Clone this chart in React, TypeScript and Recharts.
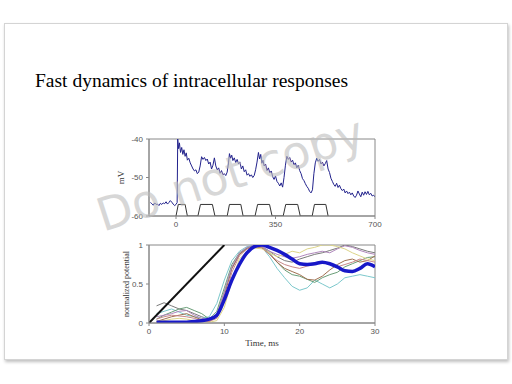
import { LineChart, Line, XAxis, YAxis, ReferenceArea } from "recharts";

// membrane potential trace (ms, mV)
const TRACE_T = [
    -90, -85, -80, -75, -70, -65, -60, -55, -50, -45, -40, -35, -30, -25, -20, -15, -10, -5, 0, 4,
    6, 9, 12, 16, 20, 24, 28, 32, 36, 40, 45, 50, 55, 60, 65, 70, 75, 80, 85, 90,
    95, 100, 105, 110, 115, 120, 125, 130, 135, 140, 145, 150, 155, 160, 165, 170, 175, 180, 185, 188,
    192, 196, 200, 205, 210, 215, 220, 225, 230, 235, 240, 245, 250, 255, 260, 265, 270, 275, 280, 285,
    290, 294, 298, 302, 306, 310, 315, 320, 325, 330, 335, 340, 345, 350, 355, 360, 365, 370, 375, 380,
    385, 390, 395, 400, 405, 410, 415, 420, 425, 430, 435, 440, 445, 450, 455, 460, 465, 470, 475, 480,
    485, 490, 495, 500, 505, 510, 515, 520, 525, 530, 535, 540, 545, 550, 555, 560, 565, 570, 575, 580,
    585, 590, 595, 600, 605, 610, 615, 620, 625, 630, 635, 640, 645, 650, 655, 660, 665, 670, 675, 680,
    685, 690, 695, 700,
];
const TRACE_MV = [
    -56.5, -56.8, -57.2, -56.6, -57.0, -56.9, -57.3, -56.7, -57.0, -56.6, -56.8, -56.3, -56.9, -56.5, -56.0, -56.4, -56.9, -57.3, -57.0, -56.5,
    -40.0, -42.5, -41.0, -43.5, -42.2, -44.0, -42.8, -44.5, -43.6, -45.5, -45.0, -46.2, -47.0, -47.8, -48.3, -48.0, -49.0, -48.6, -47.0, -44.6,
    -45.3, -44.8, -45.6, -45.2, -46.5, -46.0, -47.8, -46.8, -44.9, -47.0, -48.0, -47.5, -48.9, -48.2, -49.3, -49.0, -49.5, -48.6, -46.0, -43.8,
    -45.0, -44.2, -45.6, -44.9, -46.1, -45.3, -46.5, -46.0, -47.8, -47.0, -48.5, -48.0, -49.4, -49.0, -49.7, -49.3, -50.0, -49.5, -48.0, -46.0,
    -43.5, -45.2, -44.0, -46.3, -45.5, -47.0, -46.5, -48.2, -47.5, -48.8, -48.3, -49.8, -50.5, -49.6, -51.0, -51.5, -52.2, -51.4, -52.5, -50.0,
    -46.8, -44.5, -45.3, -44.8, -46.0, -45.5, -46.7, -46.2, -47.5, -46.8, -48.2, -49.0, -50.3, -50.8, -51.6, -52.3, -52.8, -53.6, -54.0, -53.2,
    -49.0, -46.2, -45.0, -45.8, -45.3, -46.5, -46.0, -47.0, -46.4, -45.6, -47.8, -48.7, -50.2, -51.0, -51.8, -52.3, -51.5, -52.6, -52.0, -52.9,
    -53.4, -53.0, -54.0, -53.5, -54.2, -53.8, -54.5, -54.0, -54.8, -55.2, -54.6, -53.5, -54.3, -55.0, -53.8, -54.6, -53.7, -54.4, -53.6, -54.5,
    -54.1, -54.8, -54.6, -55.0,
];

// stimulus pulses drawn along the bottom
const PULSE_T = [
    0, 8, 32, 40, 77, 86, 128, 137, 180, 188, 228, 236, 278, 287, 329, 338, 377, 386, 428, 437, 479, 487, 527, 535,
];
const PULSE_MV = [
    -60, -57, -57, -60, -60, -57, -57, -60, -60, -57, -57, -60, -60, -57, -57, -60, -60, -57, -57, -60, -60, -57, -57, -60,
];

// normalized responses, 1 ms steps
const TIME_MS = [1, 2, 3, 4, 5, 6, 7, 8, 9, 10, 11, 12, 13, 14, 15, 16, 17, 18, 19, 20, 21, 22, 23, 24, 25, 26, 27, 28, 29, 30];
const GRAY = [0.22, 0.26, 0.22, 0.18, 0.16, 0.12, 0.08, 0.05, 0.1, 0.4, 0.7, 0.88, 0.96, 1.0, 0.98, 0.92, 0.85, 0.8, 0.78, 0.82, 0.85, 0.88, 0.9, 0.93, 0.96, 1.0, 0.98, 0.95, 0.92, 0.9];
const CYAN = [0.12, 0.15, 0.18, 0.14, 0.1, 0.08, 0.06, 0.08, 0.25, 0.55, 0.8, 0.92, 0.98, 1.0, 0.97, 0.85, 0.7, 0.58, 0.47, 0.42, 0.45, 0.55, 0.5, 0.45, 0.5, 0.58, 0.6, 0.62, 0.6, 0.58];
const GREEN = [0.05, 0.1, 0.14, 0.18, 0.2, 0.16, 0.12, 0.05, 0.15, 0.45, 0.75, 0.9, 0.96, 1.0, 0.97, 0.9, 0.78, 0.68, 0.62, 0.6, 0.56, 0.52, 0.58, 0.62, 0.65, 0.72, 0.76, 0.8, 0.84, 0.85];
const BROWN = [0.02, 0.05, 0.08, 0.1, 0.12, 0.08, 0.04, 0.02, 0.08, 0.35, 0.7, 0.88, 0.95, 0.98, 0.96, 0.88, 0.78, 0.7, 0.66, 0.62, 0.56, 0.55, 0.6, 0.68, 0.75, 0.8, 0.82, 0.78, 0.8, 0.86];
const PURPLE = [0.08, 0.1, 0.12, 0.15, 0.16, 0.1, 0.06, 0.04, 0.1, 0.4, 0.72, 0.9, 0.97, 1.0, 0.98, 0.92, 0.88, 0.85, 0.83, 0.85, 0.88, 0.9, 0.92, 0.9, 0.95, 0.99, 0.97, 0.93, 0.9, 0.88];
const YELLOW = [0.02, 0.03, 0.05, 0.06, 0.05, 0.03, 0.02, 0.01, 0.03, 0.2, 0.55, 0.82, 0.92, 0.96, 0.95, 0.9, 0.85, 0.88, 0.92, 0.9, 0.95, 0.97, 1.0, 1.0, 0.98, 0.95, 0.9, 0.86, 0.82, 0.8];
const RED = [0.05, 0.08, 0.1, 0.09, 0.08, 0.06, 0.03, 0.02, 0.06, 0.3, 0.65, 0.86, 0.95, 0.99, 0.97, 0.88, 0.8, 0.75, 0.72, 0.7, 0.73, 0.75, 0.78, 0.75, 0.72, 0.75, 0.78, 0.82, 0.8, 0.78];
const MEAN = [0.01, 0.01, 0.01, 0.01, 0.01, 0.02, 0.03, 0.05, 0.1, 0.3, 0.55, 0.75, 0.9, 0.98, 1.0, 0.97, 0.93, 0.88, 0.82, 0.76, 0.75, 0.76, 0.78, 0.76, 0.72, 0.67, 0.66, 0.7, 0.76, 0.72];

// stimulus ramp
const RAMP_T = [0, 10];
const RAMP_V = [0, 1];

const THIN = [
    { key: "gray", values: GRAY, color: "#7a7a7a" },
    { key: "cyan", values: CYAN, color: "#7cc8cc" },
    { key: "green", values: GREEN, color: "#6a9e78" },
    { key: "brown", values: BROWN, color: "#a07050" },
    { key: "purple", values: PURPLE, color: "#b088bc" },
    { key: "yellow", values: YELLOW, color: "#dcd488" },
    { key: "red", values: RED, color: "#c88888" },
];

const traceData = TRACE_T.map((t, i) => ({ t, v: TRACE_MV[i] }));
const pulseData = PULSE_T.map((t, i) => ({ t, v: PULSE_MV[i] }));
const respData = TIME_MS.map((t, i) => {
    const row: Record<string, number> = { t, mean: MEAN[i] };
    THIN.forEach((s) => {
        row[s.key] = s.values[i];
    });
    return row;
});
const rampData = RAMP_T.map((t, i) => ({ t, v: RAMP_V[i] }));

const tickStyle = { fontSize: 8, fill: "#555", fontFamily: "'Liberation Sans', Arial, sans-serif" };
const labelStyle = { fontSize: 9, fill: "#333", fontFamily: "'Liberation Serif', 'Times New Roman', serif" };

export default function App() {
    return (
        <div
            style={{
                position: "absolute",
                left: 0,
                top: 0,
                width: 512,
                height: 384,
                background: "#fff",
                overflow: "hidden",
            }}
        >
            <div
                style={{
                    position: "absolute",
                    left: 4,
                    top: 23,
                    width: 502,
                    height: 335,
                    border: "1px solid #d4d4d4",
                    boxShadow: "1px 2px 3px rgba(0,0,0,0.25)",
                    background: "#fff",
                }}
            />
            <div
                style={{
                    position: "absolute",
                    left: 35,
                    top: 71,
                    fontSize: 19.5,
                    lineHeight: "19.5px",
                    fontFamily: "'Liberation Serif', 'Times New Roman', serif",
                    color: "#000",
                    whiteSpace: "nowrap",
                }}
            >
                Fast dynamics of intracellular responses
            </div>

            <div style={{ position: "absolute", left: 100, top: 125 }}>
                <LineChart width={290} height={110} data={traceData} margin={{ top: 14, right: 15, left: 0, bottom: 0 }}>
                    <ReferenceArea x1={-95} x2={700} y1={-60} y2={-40} fill="none" stroke="#888" strokeWidth={1} />
                    <XAxis
                        dataKey="t"
                        type="number"
                        domain={[-95, 700]}
                        ticks={[0, 350, 700]}
                        allowDataOverflow
                        height={19}
                        tick={tickStyle}
                        tickSize={3}
                        tickMargin={2}
                        stroke="#888"
                    />
                    <YAxis
                        type="number"
                        domain={[-60, -40]}
                        ticks={[-60, -50, -40]}
                        allowDataOverflow
                        width={49}
                        tick={tickStyle}
                        tickSize={3}
                        tickMargin={3}
                        stroke="#888"
                        label={{ value: "mV", angle: -90, position: "center", dx: -4, style: labelStyle }}
                    />
                    <Line
                        dataKey="v"
                        stroke="#22228c"
                        strokeWidth={1}
                        dot={false}
                        activeDot={false}
                        type="linear"
                        isAnimationActive={false}
                    />
                    <Line
                        data={pulseData}
                        dataKey="v"
                        stroke="#333"
                        strokeWidth={1}
                        dot={false}
                        activeDot={false}
                        type="linear"
                        isAnimationActive={false}
                    />
                </LineChart>
            </div>

            <div style={{ position: "absolute", left: 100, top: 235 }}>
                <LineChart width={290} height={120} data={respData} margin={{ top: 10, right: 15, left: 0, bottom: 0 }}>
                    <ReferenceArea x1={0} x2={30} y1={0} y2={1} fill="none" stroke="#888" strokeWidth={1} />
                    <XAxis
                        dataKey="t"
                        type="number"
                        domain={[0, 30]}
                        ticks={[0, 10, 20, 30]}
                        allowDataOverflow
                        height={32}
                        tick={tickStyle}
                        tickSize={3}
                        tickMargin={2}
                        stroke="#888"
                        label={{ value: "Time, ms", position: "insideBottom", offset: 9, style: labelStyle }}
                    />
                    <YAxis
                        type="number"
                        domain={[0, 1]}
                        ticks={[0, 0.5, 1]}
                        allowDataOverflow
                        width={49}
                        tick={tickStyle}
                        tickSize={3}
                        tickMargin={3}
                        stroke="#888"
                        label={{
                            value: "normalized potential",
                            angle: -90,
                            position: "center",
                            dx: 2,
                            style: { ...labelStyle, fontSize: 8 },
                        }}
                    />
                    {THIN.map((s) => (
                        <Line
                            key={s.key}
                            dataKey={s.key}
                            stroke={s.color}
                            strokeWidth={1}
                            dot={false}
                            activeDot={false}
                            type="linear"
                            isAnimationActive={false}
                        />
                    ))}
                    <Line
                        data={rampData}
                        dataKey="v"
                        stroke="#111"
                        strokeWidth={2}
                        dot={false}
                        activeDot={false}
                        type="linear"
                        isAnimationActive={false}
                    />
                    <Line
                        dataKey="mean"
                        stroke="#1818c8"
                        strokeWidth={3.5}
                        dot={false}
                        activeDot={false}
                        type="monotone"
                        isAnimationActive={false}
                    />
                </LineChart>
            </div>

            <svg
                width={512}
                height={384}
                style={{ position: "absolute", left: 0, top: 0, pointerEvents: "none" }}
            >
                <text
                    x={103}
                    y={232}
                    transform="rotate(-18 103 232)"
                    fontSize={46}
                    fontFamily="'DejaVu Sans', sans-serif"
                    fill="#bdbdbd"
                    fillOpacity={0.6}
                >
                    Do not copy
                </text>
            </svg>
        </div>
    );
}
